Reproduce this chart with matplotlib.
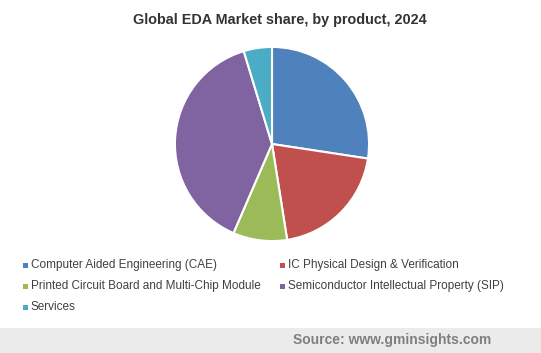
import matplotlib
matplotlib.use("Agg")
import matplotlib.pyplot as plt
from matplotlib.patches import Rectangle

plt.rcParams["font.family"] = ["Liberation Sans", "DejaVu Sans"]

products = [
    "Computer Aided Engineering (CAE)",
    "IC Physical Design & Verification",
    "Printed Circuit Board and Multi-Chip Module",
    "Semiconductor Intellectual Property (SIP)",
    "Services",
]
shares = [27.4, 20.1, 9.0, 38.8, 4.7]
colors = ["#4F81BD", "#C0504D", "#9BBB59", "#8064A2", "#4BACC6"]

W, H = 541, 353
fig = plt.figure(figsize=(W / 100, H / 100), dpi=100)

# pie: centre (272, 144) px, radius 99 px
cx, cy, r = 272, 144, 99
ax = fig.add_axes([(cx - r) / W, (H - cy - r) / H, 2 * r / W, 2 * r / H])
ax.pie(shares, colors=colors, startangle=90, counterclock=False,
       wedgeprops=dict(edgecolor="white", linewidth=1.5))
ax.set_xlim(-1.02, 1.02)
ax.set_ylim(-1.02, 1.02)
ax.axis("off")

fig.text(280 / W, 1 - 20 / H, "Global EDA Market share, by product, 2024",
         ha="center", va="center", fontsize=10.4, fontweight="bold", color="#333333")

# legend, two columns
col_x = [23, 280]
row_y = [265, 286, 307]
for i, (label, c) in enumerate(zip(products, colors)):
    mx = col_x[i % 2]
    my = row_y[i // 2]
    fig.add_artist(Rectangle((mx / W, 1 - (my + 2.5) / H), 5 / W, 5 / H,
                             transform=fig.transFigure, facecolor=c, edgecolor="none"))
    fig.text((mx + 8) / W, 1 - my / H, label, ha="left", va="center",
             fontsize=8.5, color="#404040")

# source band
fig.add_artist(Rectangle((0, 0), 1, (H - 328) / H, transform=fig.transFigure,
                         facecolor="#EBEBEB", edgecolor="none"))
fig.text(392 / W, 1 - 340 / H, "Source: www.gminsights.com", ha="center", va="center",
         fontsize=10, fontweight="bold", color="#7F7F7F")

fig.savefig("out.png", dpi=100)
